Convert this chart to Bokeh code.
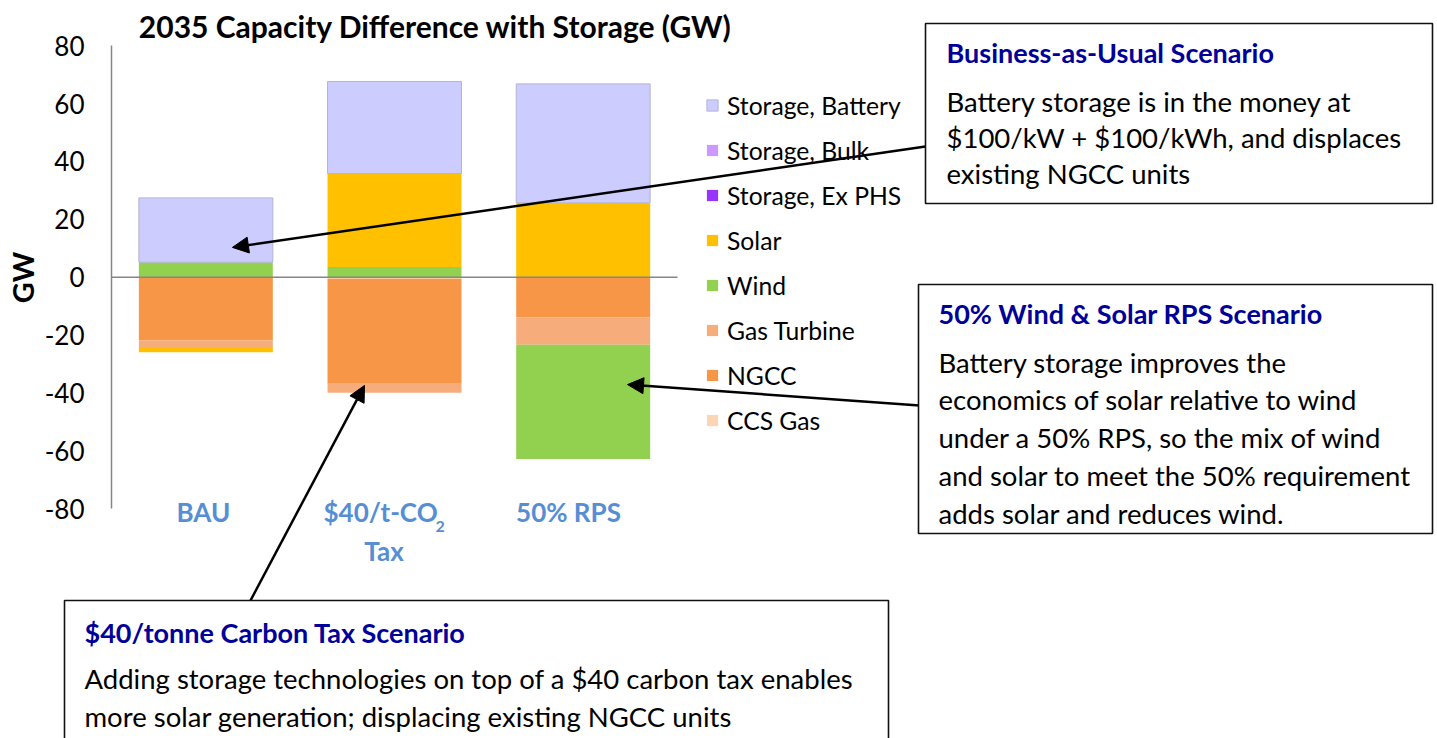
from bokeh.plotting import figure
from bokeh.models import (ColumnDataSource, Range1d, FixedTicker, Label, Legend, LegendItem,
                          BoxAnnotation, Arrow, NormalHead, LinearAxis)
from bokeh.embed import file_html
from bokeh.resources import INLINE

# ---------------- data ----------------
categories = ["BAU", "$40/t-CO2 Tax", "50% RPS"]
cat_line1 = ["BAU", "$40/t-CO", "50% RPS"]
cat_sub = ["", "2", ""]
cat_line2 = ["", "Tax", ""]

series_names = ["CCS Gas", "NGCC", "Gas Turbine", "Wind", "Solar",
                "Storage, Ex PHS", "Storage, Bulk", "Storage, Battery"]
ccs_gas = [0.0, -0.5, 0.0]
ngcc = [-21.9, -36.3, -13.8]
gas_turbine = [-2.6, -3.1, -9.5]
wind = [5.2, 3.5, -39.5]
solar = [-1.4, 32.3, 25.7]
storage_ex_phs = [0.0, 0.0, 0.0]
storage_bulk = [0.0, 0.0, 0.0]
storage_battery = [22.2, 31.8, 41.1]
series_values = [ccs_gas, ngcc, gas_turbine, wind, solar,
                 storage_ex_phs, storage_bulk, storage_battery]
series_colors = ["#FCD5B5", "#F79646", "#F7AC7C", "#92D050", "#FFC000",
                 "#9933FF", "#CC99FF", "#CCCCFF"]
series_outline = [None, None, None, None, None, None, None, "#B4B4D0"]
y_ticks = [-80, -60, -40, -20, 0, 20, 40, 60, 80]
y_tick_labels = ["-80", "-60", "-40", "-20", "0", "20", "40", "60", "80"]

title_text = "2035 Capacity Difference with Storage (GW)"
y_label = "GW"

box_bau_title = "Business-as-Usual Scenario"
box_bau_lines = ["Battery storage is in the money at",
                 "$100/kW + $100/kWh, and displaces",
                 "existing NGCC units"]
box_rps_title = "50% Wind & Solar RPS Scenario"
box_rps_lines = ["Battery storage improves the",
                 "economics of solar relative to wind",
                 "under a 50% RPS, so the mix of wind",
                 "and solar to meet the 50% requirement",
                 "adds solar and reduces wind."]
box_tax_title = "$40/tonne Carbon Tax Scenario"
box_tax_lines = ["Adding storage technologies on top of a $40 carbon tax enables",
                 "more solar generation; displacing existing NGCC units"]

# ---------------- layout helpers (page pixel -> frame screen coords) ----------------
W, H = 1437, 738
def sx(x):
    return x
def sy(y):
    return H - y

FONT = "Lato"

p = figure(width=W, height=H, output_backend="svg", toolbar_location=None,
           x_range=Range1d(-1.0883, 6.528), y_range=Range1d(-159.40, 95.61),
           x_axis_location=None, y_axis_location=None,
           min_border_left=0, min_border_right=0, min_border_top=0, min_border_bottom=0)
p.outline_line_color = None
p.grid.visible = False
p.background_fill_color = "white"

yax = LinearAxis(fixed_location=-0.5)
yax.ticker = FixedTicker(ticks=y_ticks)
yax.major_label_overrides = {t: s for t, s in zip(y_ticks, y_tick_labels)}
yax.bounds = (-80, 80)
yax.axis_line_color = "#868686"
yax.axis_line_width = 1.5
yax.major_tick_line_color = None
yax.minor_tick_line_color = None
yax.major_tick_out = 0
yax.major_tick_in = 0
yax.major_label_standoff = 27
yax.major_label_text_font = FONT
yax.major_label_text_font_size = "26px"
yax.major_label_text_color = "#000000"
p.add_layout(yax, "left")

# stacked bars (positive and negative stacks separately)
xs = list(range(len(categories)))
pos_base = [0.0] * len(categories)
neg_base = [0.0] * len(categories)
renderers = []
for name, vals, col, oc in zip(series_names, series_values, series_colors, series_outline):
    bottoms, tops = [], []
    for i, v in enumerate(vals):
        if v >= 0:
            bottoms.append(pos_base[i]); tops.append(pos_base[i] + v); pos_base[i] += v
        else:
            tops.append(neg_base[i]); bottoms.append(neg_base[i] + v); neg_base[i] += v
    src = ColumnDataSource(dict(x=xs, bottom=bottoms, top=tops))
    r = p.vbar(x="x", width=0.71, bottom="bottom", top="top", source=src,
               fill_color=col, line_color=oc, line_width=1)
    renderers.append((name, r))

# zero line
p.segment(x0=[-0.5], y0=[0], x1=[len(categories) - 0.5], y1=[0],
          line_color="#868686", line_width=1.5)

# legend (top item = last series)
items = [LegendItem(label=n, renderers=[r]) for n, r in reversed(renderers)]
legend = Legend(items=items, location=(705, H - 90 - 345), padding=0, margin=0,
                spacing=15, label_height=30, glyph_height=14, glyph_width=14,
                label_standoff=8, border_line_color=None, background_fill_alpha=0,
                label_text_font=FONT, label_text_font_size="24.7px",
                label_text_color="#000000")
p.add_layout(legend, "center")

# title and y-axis title
p.add_layout(Label(x=sx(435), y=sy(25), x_units="screen", y_units="screen",
                   text=title_text, text_align="center", text_baseline="middle",
                   text_font=FONT, text_font_style="bold", text_font_size="30px",
                   text_color="#000000"))
p.add_layout(Label(x=sx(22), y=sy(277), x_units="screen", y_units="screen",
                   text=y_label, angle=1.5707963, text_align="center", text_baseline="middle",
                   text_font=FONT, text_font_style="bold", text_font_size="29px",
                   text_color="#000000"))

# category labels
cat_color = "#558ED5"
cat_offsets = [-2.5, -71, -14.7]
for i in xs:
    align = "left" if cat_sub[i] else "center"
    p.add_layout(Label(x=i, y=sy(511), x_units="data", y_units="screen", x_offset=cat_offsets[i],
                       text=cat_line1[i], text_align=align, text_baseline="middle",
                       text_font=FONT, text_font_style="bold", text_font_size="26px",
                       text_color=cat_color))
    if cat_sub[i]:
        p.add_layout(Label(x=i, y=sy(526), x_units="data", y_units="screen", x_offset=41,
                           text=cat_sub[i], text_align="left", text_baseline="middle",
                           text_font=FONT, text_font_style="bold", text_font_size="16px",
                           text_color=cat_color))
    if cat_line2[i]:
        p.add_layout(Label(x=i, y=sy(550), x_units="data", y_units="screen", x_offset=-10.5,
                           text=cat_line2[i], text_align="center", text_baseline="middle",
                           text_font=FONT, text_font_style="bold", text_font_size="26px",
                           text_color=cat_color))

# arrows
def arrow(x0, y0, x1, y1):
    p.add_layout(Arrow(end=NormalHead(size=16, fill_color="black", line_color="black"),
                       x_start=sx(x0), y_start=sy(y0), start_units="screen",
                       x_end=x1, y_end=y1, end_units="data",
                       line_color="black", line_width=2.5))

arrow(925, 146, 0.141, 10.3)
arrow(919, 405, 2.235, -37.1)
arrow(250, 600, 0.841, -37.4)

# text boxes
def box(l, t, r, b, tx, title, lines, title_y, line_ys):
    p.add_layout(BoxAnnotation(left=sx(l), right=sx(r), top=sy(t), bottom=sy(b),
                               left_units="screen", right_units="screen",
                               top_units="screen", bottom_units="screen",
                               fill_color="white", fill_alpha=1.0,
                               line_color="#111111", line_alpha=1.0, line_width=1.6))
    p.add_layout(Label(x=sx(tx), y=sy(title_y), x_units="screen", y_units="screen",
                       text=title, text_align="left", text_baseline="middle",
                       text_font=FONT, text_font_style="bold", text_font_size="27px",
                       text_color="#000099"))
    for ln, ly in zip(lines, line_ys):
        p.add_layout(Label(x=sx(tx), y=sy(ly), x_units="screen", y_units="screen",
                           text=ln, text_align="left", text_baseline="middle",
                           text_font=FONT, text_font_size="27.5px", text_color="#000000"))

box(925, 23, 1432, 203, 946, box_bau_title, box_bau_lines, 52, [101, 137, 173])
box(918, 284, 1432, 533, 938, box_rps_title, box_rps_lines, 313, [362, 399, 437, 475, 513])
box(64, 600, 888, 760, 84, box_tax_title, box_tax_lines, 632, [678, 716])

open("out.html", "w").write(file_html(p, INLINE))
